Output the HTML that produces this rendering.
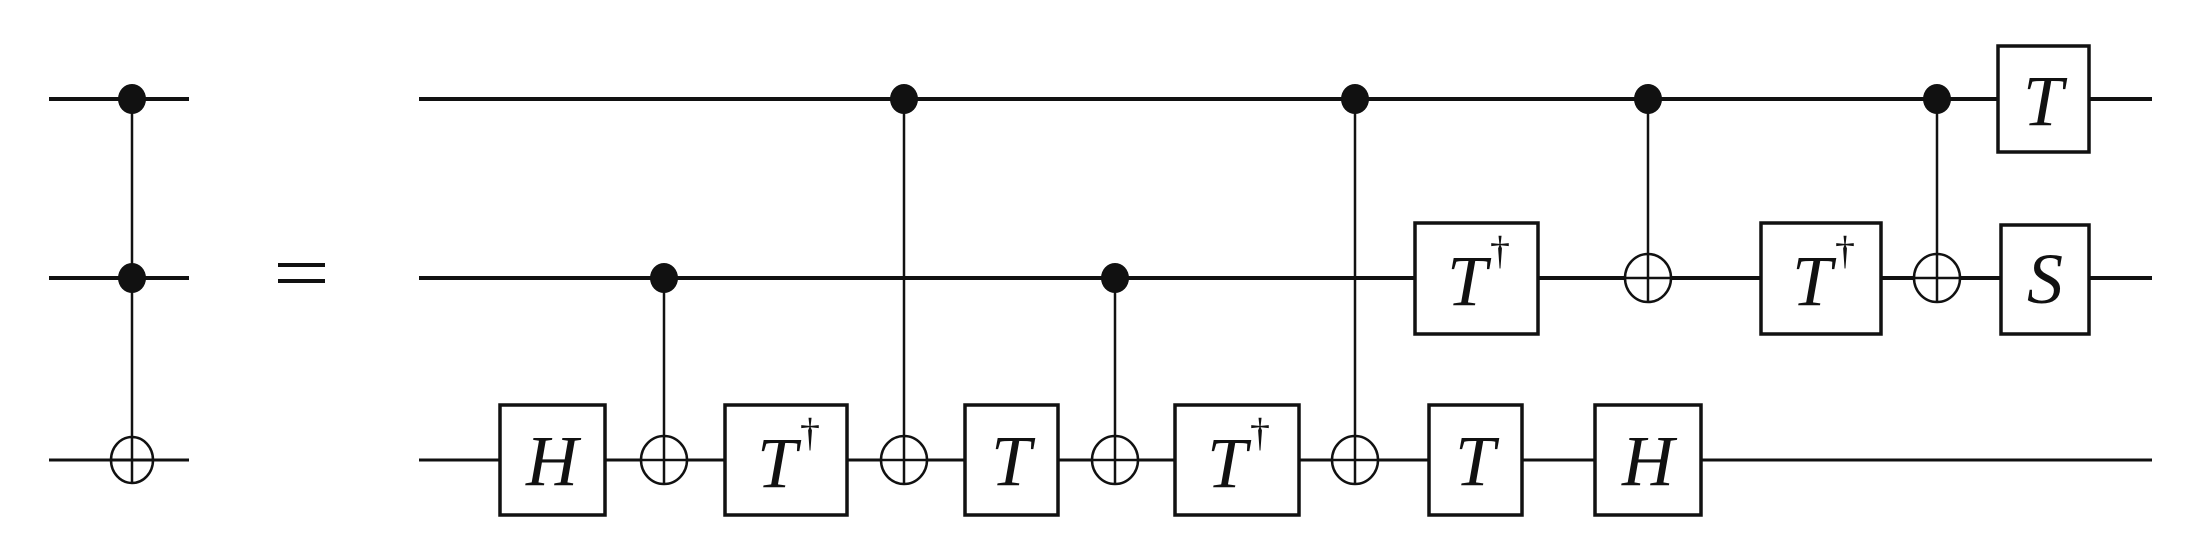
<!DOCTYPE html>
<html><head><style>html,body{margin:0;padding:0;background:#fff;}svg{display:block}</style></head>
<body>
<svg width="2194" height="542" viewBox="0 0 2194 542" xmlns="http://www.w3.org/2000/svg">
<g stroke="#111" fill="none">
<line x1="49" y1="99" x2="189" y2="99" stroke-width="4"/>
<line x1="49" y1="278" x2="189" y2="278" stroke-width="4"/>
<line x1="49" y1="460" x2="189" y2="460" stroke-width="3"/>
<line x1="132" y1="99" x2="132" y2="483" stroke-width="2.5"/>
<ellipse cx="132" cy="460" rx="21" ry="23" stroke-width="2.5"/>
<line x1="278" y1="265" x2="325" y2="265" stroke-width="4"/>
<line x1="278" y1="281" x2="325" y2="281" stroke-width="4"/>
<line x1="419" y1="99" x2="2152" y2="99" stroke-width="4"/>
<line x1="419" y1="278" x2="2152" y2="278" stroke-width="4"/>
<line x1="419" y1="460" x2="2152" y2="460" stroke-width="3"/>
<line x1="664" y1="278" x2="664" y2="484" stroke-width="2.5"/>
<line x1="904" y1="99" x2="904" y2="484" stroke-width="2.5"/>
<line x1="1115" y1="278" x2="1115" y2="484" stroke-width="2.5"/>
<line x1="1355" y1="99" x2="1355" y2="484" stroke-width="2.5"/>
<line x1="1648" y1="99" x2="1648" y2="302" stroke-width="2.5"/>
<line x1="1937" y1="99" x2="1937" y2="302" stroke-width="2.5"/>
<g stroke-width="2.5" fill="#fff">
<ellipse cx="664" cy="460" rx="23" ry="24"/>
<ellipse cx="904" cy="460" rx="23" ry="24"/>
<ellipse cx="1115" cy="460" rx="23" ry="24"/>
<ellipse cx="1355" cy="460" rx="23" ry="24"/>
<ellipse cx="1648" cy="278" rx="23" ry="24"/>
<ellipse cx="1937" cy="278" rx="23" ry="24"/>
</g>
<g stroke-width="2.5">
<line x1="664" y1="436" x2="664" y2="484"/><line x1="641" y1="460" x2="687" y2="460"/>
<line x1="904" y1="436" x2="904" y2="484"/><line x1="881" y1="460" x2="927" y2="460"/>
<line x1="1115" y1="436" x2="1115" y2="484"/><line x1="1092" y1="460" x2="1138" y2="460"/>
<line x1="1355" y1="436" x2="1355" y2="484"/><line x1="1332" y1="460" x2="1378" y2="460"/>
<line x1="1648" y1="254" x2="1648" y2="302"/><line x1="1625" y1="278" x2="1671" y2="278"/>
<line x1="1937" y1="254" x2="1937" y2="302"/><line x1="1914" y1="278" x2="1960" y2="278"/>
</g>
<g stroke-width="3.5" fill="#fff">
<rect x="500" y="405" width="105" height="110"/>
<rect x="725" y="405" width="122" height="110"/>
<rect x="965" y="405" width="93" height="110"/>
<rect x="1175" y="405" width="124" height="110"/>
<rect x="1429" y="405" width="93" height="110"/>
<rect x="1595" y="405" width="106" height="110"/>
<rect x="1415" y="223" width="123" height="111"/>
<rect x="1761" y="223" width="120" height="111"/>
<rect x="2001" y="225" width="88" height="109"/>
<rect x="1998" y="46" width="91" height="106"/>
</g>
</g>
<g fill="#111">
<ellipse cx="132" cy="99" rx="14" ry="15"/>
<ellipse cx="132" cy="278" rx="14" ry="15"/>
<ellipse cx="664" cy="278" rx="14" ry="15"/>
<ellipse cx="1115" cy="278" rx="14" ry="15"/>
<ellipse cx="904" cy="99" rx="14" ry="15"/>
<ellipse cx="1355" cy="99" rx="14" ry="15"/>
<ellipse cx="1648" cy="99" rx="14" ry="15"/>
<ellipse cx="1937" cy="99" rx="14" ry="15"/>
</g>
<g font-family="Liberation Serif, serif" font-style="italic" font-size="72" fill="#111" text-anchor="middle">
<text x="552" y="485">H</text>
<text x="777" y="487">T</text><text x="810" y="446" font-size="40" font-style="normal">†</text>
<text x="1011" y="485">T</text>
<text x="1227" y="487">T</text><text x="1260" y="446" font-size="40" font-style="normal">†</text>
<text x="1475" y="485">T</text>
<text x="1648" y="485">H</text>
<text x="1467" y="305">T</text><text x="1500" y="264" font-size="40" font-style="normal">†</text>
<text x="1812" y="305">T</text><text x="1845" y="264" font-size="40" font-style="normal">†</text>
<text x="2045" y="303">S</text>
<text x="2043" y="125">T</text>
</g>
</svg>
</body></html>
